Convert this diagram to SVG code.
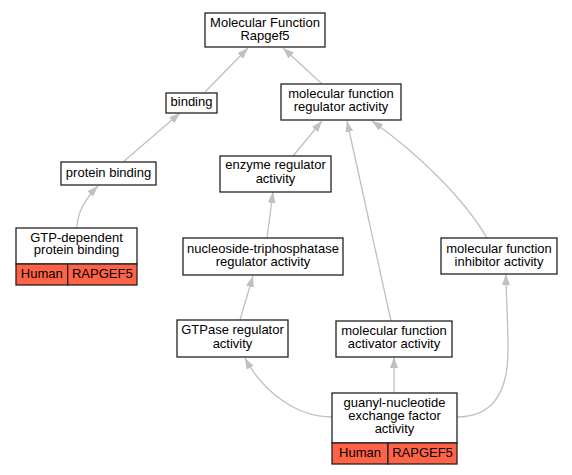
<svg xmlns="http://www.w3.org/2000/svg" width="572" height="475" viewBox="0 0 572 475">
<style>
.box{fill:#fff;stroke:#222;stroke-width:1.3}
.red{fill:#ff6347;stroke:#222;stroke-width:1.3}
text{font-family:"Liberation Sans",Arial,sans-serif;font-size:13px;fill:#000;text-anchor:middle}
.e{fill:none;stroke:#c0c0c0;stroke-width:1.3;marker-end:url(#ah)}
</style>
<defs>
<marker id="ah" markerUnits="userSpaceOnUse" markerWidth="12" markerHeight="9" refX="11" refY="4" orient="auto" viewBox="0 0 12 9">
<path d="M0,0 L11,4 L0,8 z" fill="#c0c0c0"/>
</marker>
</defs>
<rect width="572" height="475" fill="#fff"/>
<g id="connectors">
<path class="e" d="M205,92 L248,48"/>
<path class="e" d="M322,84 L283,48"/>
<path class="e" d="M123,162 L180,113"/>
<path class="e" d="M77,228 C77,210 88,196 98,186"/>
<path class="e" d="M293,156 L322,121"/>
<path class="e" d="M391,321 L347,121"/>
<path class="e" d="M487,238 C465,200 420,155 372,121"/>
<path class="e" d="M267,238 L273,192"/>
<path class="e" d="M240,320 L253,276"/>
<path class="e" d="M332,417 C295,417 262,390 245,358"/>
<path class="e" d="M394,393 L394,357"/>
<path class="e" d="M457,417 C495,417 508,390 508,350 C508,320 506,295 506,274"/>
</g>
<g id="mf">
<rect class="box" x="205" y="13" width="120" height="34"/>
<text x="265" y="26.7">Molecular Function</text>
<text x="265" y="39.5">Rapgef5</text>
</g>
<g id="binding">
<rect class="box" x="166" y="93" width="51" height="20"/>
<text x="191.5" y="105.5">binding</text>
</g>
<g id="mfra">
<rect class="box" x="281" y="84" width="120" height="36"/>
<text x="341" y="98">molecular function</text>
<text x="341" y="111.3">regulator activity</text>
</g>
<g id="pb">
<rect class="box" x="61" y="162" width="95" height="23"/>
<text x="108.5" y="177">protein binding</text>
</g>
<g id="enzyme">
<rect class="box" x="220" y="156" width="111" height="36"/>
<text x="275.5" y="169.3">enzyme regulator</text>
<text x="275.5" y="182.7">activity</text>
</g>
<g id="gtpdep">
<rect class="box" x="16" y="228" width="121" height="36"/>
<text x="76.5" y="241.7">GTP-dependent</text>
<text x="76.5" y="254.3">protein binding</text>
<rect class="red" x="16" y="264" width="51.7" height="21"/>
<rect class="red" x="67.7" y="264" width="69.3" height="21"/>
<text x="41.8" y="278">Human</text>
<text x="102.3" y="278">RAPGEF5</text>
</g>
<g id="nuc">
<rect class="box" x="183" y="238" width="160" height="37"/>
<text x="263" y="252.7">nucleoside-triphosphatase</text>
<text x="263" y="266">regulator activity</text>
</g>
<g id="inhib">
<rect class="box" x="441" y="238" width="116" height="36"/>
<text x="499" y="252.7">molecular function</text>
<text x="499" y="266">inhibitor activity</text>
</g>
<g id="gtpase">
<rect class="box" x="177" y="320" width="111" height="37"/>
<text x="232.5" y="334.3">GTPase regulator</text>
<text x="232.5" y="348.3">activity</text>
</g>
<g id="activator">
<rect class="box" x="336" y="321" width="116" height="36"/>
<text x="394" y="335">molecular function</text>
<text x="394" y="348.3">activator activity</text>
</g>
<g id="guanyl">
<rect class="box" x="332" y="393" width="125" height="50"/>
<text x="394.5" y="406.7">guanyl-nucleotide</text>
<text x="394.5" y="420">exchange factor</text>
<text x="394.5" y="433.3">activity</text>
<rect class="red" x="332" y="443" width="56" height="21"/>
<rect class="red" x="388" y="443" width="69" height="21"/>
<text x="360" y="457">Human</text>
<text x="422.5" y="457">RAPGEF5</text>
</g>
</svg>
